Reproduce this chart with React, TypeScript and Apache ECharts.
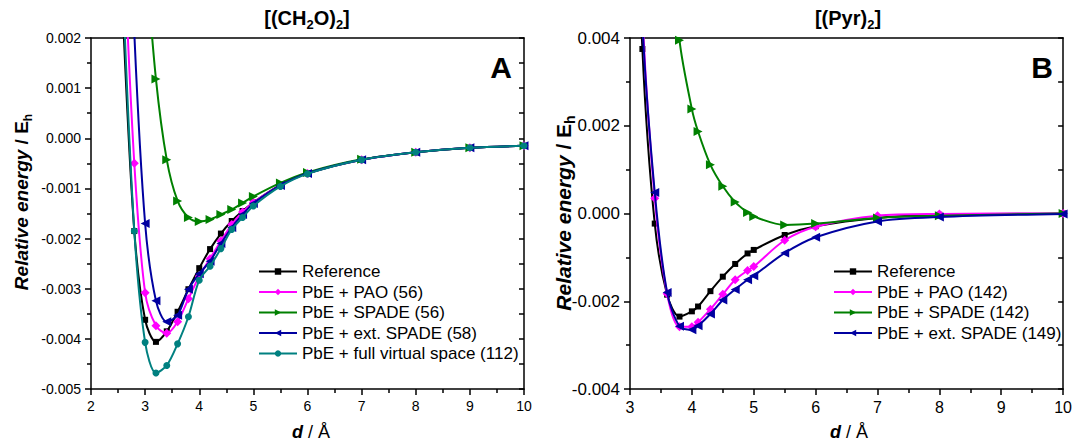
import React, { useEffect, useRef } from 'react';
import * as echarts from 'echarts';

// ---------- Panel A: [(CH2O)2] ----------
const dA = [2.6, 2.8, 3.0, 3.2, 3.4, 3.6, 3.8, 4.0, 4.2, 4.4, 4.6, 4.8, 5.0, 5.5, 6.0, 7.0, 8.0, 9.0, 10.0];
const refA = [0.0022, -0.00185, -0.00362, -0.00406, -0.00385, -0.00346, -0.00301, -0.00259, -0.00221, -0.0019, -0.00165, -0.00145, -0.00128, -0.00093, -0.0007, -0.00043, -0.00028, -0.00019, -0.00015];
const paoA = [0.004, -0.0005, -0.00308, -0.00374, -0.00389, -0.00366, -0.0032, -0.00275, -0.0024, -0.00205, -0.00172, -0.00147, -0.00128, -0.00094, -0.0007, -0.00043, -0.00028, -0.00019, -0.00015];
const spadeA = [null, null, 0.0038, 0.00118, -0.00043, -0.00125, -0.00158, -0.00166, -0.00162, -0.00152, -0.00142, -0.00129, -0.00116, -0.00089, -0.00068, -0.00042, -0.00028, -0.00019, -0.00015];
const extA = [0.008, 0.0021, -0.0017, -0.00324, -0.00366, -0.00353, -0.00301, -0.0027, -0.00245, -0.0021, -0.00178, -0.00152, -0.0013, -0.00094, -0.0007, -0.00043, -0.00028, -0.00019, -0.00015];
const fullA = [0.0027, -0.00185, -0.00407, -0.00468, -0.00453, -0.0041, -0.00356, -0.00283, -0.00255, -0.0022, -0.00182, -0.00158, -0.00135, -0.00096, -0.00071, -0.00043, -0.00028, -0.00019, -0.00015];
const namesA = ['Reference', 'PbE + PAO (56)', 'PbE + SPADE (56)', 'PbE + ext. SPADE (58)', 'PbE + full virtual space (112)'];

// ---------- Panel B: [(Pyr)2] ----------
const dB = [3.0, 3.2, 3.4, 3.6, 3.8, 4.0, 4.1, 4.3, 4.5, 4.7, 4.9, 5.0, 5.5, 6.0, 7.0, 8.0, 10.0];
const refB = [0.012, 0.00375, -0.00023, -0.00185, -0.00235, -0.00223, -0.00212, -0.00177, -0.00144, -0.00115, -0.00091, -0.00083, -0.00049, -0.00029, -0.0001, -0.00003, 0];
const paoB = [0.014, 0.0046, 0.00035, -0.00183, -0.00258, -0.00258, -0.00248, -0.00218, -0.00184, -0.00151, -0.0013, -0.00121, -0.00061, -0.0003, -0.00005, -0.00001, 0];
const spadeB = [null, null, null, 0.0075, 0.00395, 0.00238, 0.00187, 0.00111, 0.00062, 0.00026, 0.00002, -0.00007, -0.00026, -0.00023, -0.0001, -0.00005, 0];
const extB = [0.014, 0.0044, 0.00048, -0.0018, -0.00257, -0.00265, -0.00256, -0.00229, -0.00197, -0.00173, -0.00151, -0.00142, -0.0009, -0.00054, -0.00018, -0.00008, -0.00001];
const namesB = ['Reference', 'PbE + PAO (142)', 'PbE + SPADE (142)', 'PbE + ext. SPADE (149)'];

const FONT = '"Liberation Sans", Arial, Helvetica, sans-serif';
const COLORS = ['#000000', '#ff00ff', '#008000', '#0000a0', '#008080'];
const SYMBOLS = ['rect', 'diamond', 'triangle', 'triangle', 'circle'];
const SIZES = [6, 9, 9, 9, 7];
const ROTS = [0, 0, -90, 90, 0];

function mkSeries(name: string, xs: number[], ys: (number | null)[], k: number, panel: number) {
  const data: number[][] = [];
  xs.forEach((x, i) => {
    const y = ys[i];
    if (y !== null && y !== undefined) data.push([x, y]);
  });
  return {
    type: 'line',
    name,
    xAxisIndex: panel * 2,
    yAxisIndex: panel * 2,
    data,
    smooth: 0.3,
    symbol: SYMBOLS[k],
    symbolSize: SIZES[k],
    symbolRotate: ROTS[k],
    showAllSymbol: true,
    clip: true,
    lineStyle: { width: 2, color: COLORS[k] },
    itemStyle: { color: COLORS[k] },
    z: 2 + k,
  };
}

function yFmt(v: number) {
  if (Math.abs(v) < 1e-9) return '0.000';
  return v.toFixed(3);
}

function bottomAxis(grid: number, min: number, max: number, fs: number) {
  return {
    type: 'value', gridIndex: grid, position: 'bottom', min, max, interval: 1,
    axisLine: { show: true, onZero: false, lineStyle: { color: '#000', width: 1.5 } },
    axisTick: { show: true, length: 6, lineStyle: { color: '#000', width: 1.5 } },
    minorTick: { show: true, splitNumber: 2, length: 4, lineStyle: { color: '#000', width: 1.5 } },
    axisLabel: { color: '#000', fontSize: fs, fontFamily: FONT, margin: 10 },
    splitLine: { show: false },
  };
}
function topAxis(grid: number, min: number, max: number) {
  return {
    type: 'value', gridIndex: grid, position: 'top', min, max, interval: 1,
    axisLine: { show: true, onZero: false, lineStyle: { color: '#000', width: 1.5 } },
    axisTick: { show: false }, axisLabel: { show: false }, splitLine: { show: false },
  };
}
function leftAxis(grid: number, min: number, max: number, interval: number, fs: number) {
  return {
    type: 'value', gridIndex: grid, position: 'left', min, max, interval,
    axisLine: { show: true, onZero: false, lineStyle: { color: '#000', width: 1.5 } },
    axisTick: { show: true, length: 6, lineStyle: { color: '#000', width: 1.5 } },
    minorTick: { show: true, splitNumber: 2, length: 4, lineStyle: { color: '#000', width: 1.5 } },
    axisLabel: { color: '#000', fontSize: fs, fontFamily: FONT, margin: 10, formatter: yFmt },
    splitLine: { show: false },
  };
}
function rightAxis(grid: number, min: number, max: number, interval: number) {
  return {
    type: 'value', gridIndex: grid, position: 'right', min, max, interval,
    axisLine: { show: true, onZero: false, lineStyle: { color: '#000', width: 1.5 } },
    axisTick: { show: true, inside: true, length: 5, lineStyle: { color: '#000', width: 1.5 } },
    minorTick: { show: true, splitNumber: 2, length: 5, lineStyle: { color: '#000', width: 1.5 } },
    axisLabel: { show: false }, splitLine: { show: false },
  };
}

function rich(fs: number) {
  const sub = Math.round(fs * 0.65);
  const lh = Math.round(fs * 1.3);
  return {
    b: { fontFamily: FONT, fontWeight: 'bold', fontSize: fs, lineHeight: lh, color: '#000' },
    i: { fontFamily: FONT, fontWeight: 'bold', fontStyle: 'italic', fontSize: fs, lineHeight: lh, color: '#000' },
    n: { fontFamily: FONT, fontWeight: 'normal', fontSize: fs, lineHeight: lh, color: '#000' },
    s: { fontFamily: FONT, fontWeight: 'bold', fontSize: sub, lineHeight: sub, verticalAlign: 'bottom', color: '#000' },
  };
}

function txt(x: number, y: number, text: string, r: any, rotation = 0) {
  return {
    type: 'text', x, y, rotation, z: 100,
    style: { text, rich: r, align: 'center', verticalAlign: 'middle', fill: '#000' },
  };
}

export default function App() {
  const ref = useRef<HTMLDivElement>(null);
  useEffect(() => {
    if (!ref.current) return;
    const chart = echarts.init(ref.current, undefined, { renderer: 'svg' });
    const seriesA = [refA, paoA, spadeA, extA, fullA].map((ys, k) => mkSeries(namesA[k], dA, ys, k, 0));
    const seriesB = [refB, paoB, spadeB, extB].map((ys, k) => mkSeries(namesB[k], dB, ys, k, 1));
    const legendCommon = {
      orient: 'vertical', itemWidth: 38, itemHeight: 8, itemGap: 3.5, padding: 0,
      textStyle: { color: '#000', fontSize: 17, fontFamily: FONT },
      inactiveColor: '#000',
    };
    const letter = { L: { fontFamily: FONT, fontWeight: 'bold', fontSize: 30, color: '#000' } };
    const option: any = {
      animation: false,
      backgroundColor: '#fff',
      grid: [
        { left: 91, top: 38, width: 433, height: 351 },
        { left: 630, top: 38, width: 435, height: 351 },
      ],
      xAxis: [bottomAxis(0, 2, 10, 14), topAxis(0, 2, 10), bottomAxis(1, 3, 10, 16), topAxis(1, 3, 10)],
      yAxis: [leftAxis(0, -0.005, 0.002, 0.001, 14), rightAxis(0, -0.005, 0.002, 0.001), leftAxis(1, -0.004, 0.004, 0.002, 17), rightAxis(1, -0.004, 0.004, 0.002)],
      legend: [
        { ...legendCommon, left: 258, top: 263, data: namesA },
        { ...legendCommon, left: 833, top: 263, data: namesB },
      ],
      series: [...seriesA, ...seriesB],
      graphic: [
        txt(307, 18, '{b|[(CH}{s|2}{b|O)}{s|2}{b|]}', rich(20)),
        txt(848, 18, '{b|[(Pyr)}{s|2}{b|]}', rich(20)),
        txt(501, 67, '{L|A}', letter),
        txt(1042, 67, '{L|B}', letter),
        txt(21, 202, '{i|Relative energy}{b| / E}{s|h}', rich(19), Math.PI / 2),
        txt(563, 213, '{i|Relative energy}{b| / E}{s|h}', rich(21), Math.PI / 2),
        txt(311, 432, '{i|d}{n| / Å}', rich(18)),
        txt(849, 432, '{i|d}{n| / Å}', rich(18)),
      ],
    };
    chart.setOption(option);
    return () => chart.dispose();
  }, []);
  return <div ref={ref} style={{ position: 'fixed', left: 0, top: 0, width: 1075, height: 444 }} />;
}
